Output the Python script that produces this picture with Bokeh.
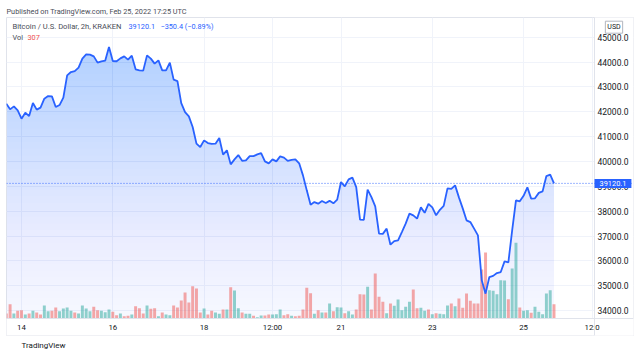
import numpy as np
from bokeh.plotting import figure
from bokeh.models import Range1d, FixedTicker, PrintfTickFormatter, Span, Label, Title
from bokeh.embed import file_html
from bokeh.resources import INLINE

FONT = "Roboto"

# 2h bars, hours relative to 2022-02-14 00:00 UTC (first bar Feb 13 16:00, last Feb 25 16:00)
bar_hours = [-8 + 2 * i for i in range(145)]

close = [
    42326, 42097, 42217, 42057, 41723, 41964, 41827, 42350, 42085, 42165,
    42527, 42632, 42620, 42189, 42270, 42567, 43464, 43597, 43637, 43774,
    44136, 44308, 44295, 44228, 43975, 44027, 44055, 44602, 44039, 44030,
    44148, 44228, 44095, 44256, 43705, 43665, 43653, 44268, 44136, 43934,
    44067, 43665, 43660, 43975, 43291, 43235, 42350, 41988, 41815, 41385,
    40718, 40581, 40850, 40742, 40710, 40718, 40943, 40275, 40448, 39885,
    40086, 40259, 40026, 40046, 40219, 40215, 40287, 40340, 40006, 39926,
    40086, 40006, 40207, 40155, 40026, 40066, 40086, 39926, 39443, 38840,
    38265, 38369, 38305, 38410, 38329, 38418, 38317, 38466, 39174, 39001,
    39282, 39351, 38973, 37662, 37650, 38868, 38570, 38196, 37099, 37090,
    37300, 36656, 36801, 36829, 37163, 37501, 37903, 37835, 37702, 38156,
    37935, 38297, 38156, 37835, 38056, 38217, 38920, 38900, 39041, 38558,
    38116, 37634, 37565, 37300, 37030, 35221, 34686, 35354, 35402, 35514,
    35555, 35985, 35945, 37231, 38438, 38398, 38619, 38960, 38506, 38518,
    38739, 38800, 39415, 39470.5, 39120.1,
]

volume = [
    108, 307, 108, 166, 178, 86, 108, 166, 129, 86,
    280, 157, 166, 237, 157, 215, 237, 166, 129, 108,
    280, 215, 157, 252, 178, 166, 135, 194, 144, 71,
    108, 49, 58, 86, 264, 221, 108, 280, 209, 221,
    49, 129, 86, 71, 280, 237, 387, 559, 344, 694,
    645, 129, 215, 86, 166, 129, 101, 194, 194, 673,
    602, 221, 129, 101, 101, 58, 28, 65, 65, 86,
    86, 92, 194, 71, 92, 58, 49, 58, 194, 660,
    544, 101, 178, 129, 129, 323, 157, 243, 237, 114,
    157, 86, 194, 522, 518, 682, 194, 968, 467, 359,
    114, 323, 273, 409, 178, 252, 359, 624, 221, 230,
    166, 194, 92, 114, 101, 92, 280, 323, 264, 430,
    230, 538, 381, 323, 323, 1054, 1419, 608, 596, 522,
    823, 820, 415, 1075, 1628, 237, 166, 178, 123, 252,
    144, 92, 538, 608, 307,
]

direction = (
    "d d u d d u d u d d "
    "u u d d u u u u d u "
    "u u u d d u u u d d "
    "u d d u d d d u d d "
    "u d u u d d d d d d "
    "d d u d d u u d u d "
    "u u d u u d u u d d "
    "u u u d d u d d d d "
    "d u d u d u d u u d "
    "u u d d d u d d d d "
    "u d u u u u u d d u "
    "u d u d u u u d u d "
    "d d d d d d d u u u "
    "u u d u u d u u d u "
    "u u u u d"
).split()

last_close = 39120.1
last_volume = 307
change_text = "\u2212350.4 (\u22120.89%)"

tick_hours = [0, 48, 96, 132, 168, 216, 264, 300]
tick_labels = ["14", "16", "18", "12:00", "21", "23", "25", "12:0"]
price_ticks = list(range(34000, 46000, 1000))

LINE = "#2962ff"
UP = "#26a69a"
DOWN = "#ef5350"
BORDER = "#e0e3eb"
GRID = "#f0f3fa"
TEXT = "#131722"
HEAD = "#4a4d57"

# geometry (frame covers chart pane + price scale + time scale)
X_START, X_END = -7.89, 321.8          # hours
PRICE_AXIS_X = 301.31                  # divider between pane and price scale
Y_BOT, Y_TOP = 33004, 45790            # price
TIME_AXIS_Y = 33687                    # divider between pane and time scale
VOL_RANGE = (-365, 6471)

p = figure(
    width=640, height=358,
    output_backend="svg", toolbar_location=None,
    x_range=Range1d(X_START, X_END), y_range=Range1d(Y_BOT, Y_TOP),
    y_axis_location="right",
    min_border_left=6, min_border_right=7, min_border_top=17, min_border_bottom=23,
    background_fill_color="white", border_fill_color="white",
    outline_line_color=BORDER,
)
p.extra_y_ranges = {"vol": Range1d(*VOL_RANGE)}

# price scale
ya = p.yaxis[0]
ya.fixed_location = PRICE_AXIS_X
ya.ticker = FixedTicker(ticks=price_ticks)
ya.formatter = PrintfTickFormatter(format="%.1f")
ya.major_label_text_font = FONT
ya.major_label_text_font_size = "8.5px"
ya.major_label_text_color = TEXT
ya.major_tick_out = 0
ya.major_tick_in = 0
ya.major_tick_line_color = None
ya.minor_tick_line_color = None
ya.axis_line_color = BORDER
ya.major_label_standoff = 3

# time scale
xa = p.xaxis[0]
xa.fixed_location = TIME_AXIS_Y
xa.ticker = FixedTicker(ticks=tick_hours)
xa.major_label_overrides = dict(zip(tick_hours, tick_labels))
xa.major_label_text_font = FONT
xa.major_label_text_font_size = "7.8px"
xa.major_label_text_color = TEXT
xa.major_tick_out = 0
xa.major_tick_in = 0
xa.major_tick_line_color = None
xa.minor_tick_line_color = None
xa.axis_line_color = BORDER
xa.major_label_standoff = 4

p.xgrid.ticker = FixedTicker(ticks=tick_hours)
p.xgrid.grid_line_color = GRID
p.ygrid.grid_line_color = GRID

# gradient area fill (stacked translucent layers)
closes = np.array(close, dtype=float)
y_max = closes.max()
levels = np.linspace(TIME_AXIS_Y, y_max, 40, endpoint=False)
prev_cov = 0.0
for lv in levels:
    f = (lv - TIME_AXIS_Y) / (Y_TOP - TIME_AXIS_Y)
    cov = 0.045 + 0.235 * f
    a = 1 - (1 - cov) / (1 - prev_cov)
    prev_cov = cov
    p.varea(x=bar_hours, y1=float(lv), y2=np.maximum(closes, lv),
            fill_color=LINE, fill_alpha=a)

# volume
vol_colors = [UP if d == "u" else DOWN for d in direction]
p.vbar(x=bar_hours, top=volume, bottom=0, width=1.55, y_range_name="vol",
       fill_color=vol_colors, fill_alpha=0.5, line_color=None)

# price line
p.line(bar_hours, close, line_color=LINE, line_width=1.8)

# blank scale areas (hide grid there)
p.quad(left=PRICE_AXIS_X, right=X_END + 5, bottom=Y_BOT - 500, top=Y_TOP + 500,
       fill_color="white", line_color=None)
p.quad(left=X_START - 5, right=X_END + 5, bottom=Y_BOT - 500, top=TIME_AXIS_Y,
       fill_color="white", line_color=None)

p.add_layout(Span(location=last_close, dimension="width", line_color=LINE,
                  line_dash="1 2", line_width=1, line_alpha=0.9))

def lab(x, page_y, text, size, color, align="left", **kw):
    # x: pixels from frame left; page_y: pixels from top of picture
    p.add_layout(Label(x=x, y=335 - page_y, x_units="screen", y_units="screen", text=text,
                       text_font=FONT, text_font_size=size, text_color=color,
                       text_align=align, text_baseline="middle", **kw))

lab(6, 25.7, "Bitcoin / U.S. Dollar, 2h, KRAKEN", "7.6px", HEAD)
lab(122, 25.7, f"{last_close}", "7.3px", LINE)
lab(154, 25.7, change_text, "7.3px", LINE)
lab(6, 37.3, "Vol", "7.3px", HEAD)
lab(21, 37.3, f"{last_volume}", "7.3px", DOWN)
lab(607.5, 26.7, "USD", "7px", TEXT, align="center",
    border_line_color="#b2b5be", border_line_width=1, padding=2)

# last price badge on the price scale (drawn over the scale's tick labels)
p.add_layout(Label(x=PRICE_AXIS_X, y=last_close, text=f"{last_close}",
                   text_font=FONT, text_font_size="7.4px",
                   text_color="white", text_align="left", text_baseline="middle",
                   background_fill_color=LINE, padding=(5, 2), level="overlay"))

# header / footer
p.title.text = "Published on TradingView.com, Feb 25, 2022 17:25 UTC"
p.title.text_font = FONT
p.title.text_font_size = "7.3px"
p.title.text_font_style = "normal"
p.title.text_color = HEAD
p.title.align = "left"
p.title.offset = 0
p.title.standoff = 4

p.add_layout(Title(text="TradingView", align="left", offset=15, standoff=6,
                   text_font=FONT, text_font_size="8px", text_font_style="normal",
                   text_color=TEXT), "below")

open("out.html", "w").write(file_html(p, INLINE))
